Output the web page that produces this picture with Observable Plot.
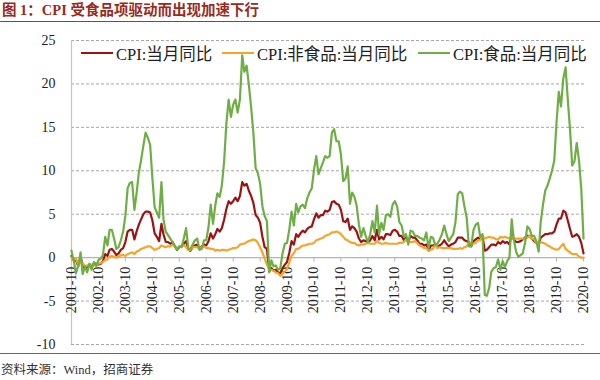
<!DOCTYPE html>
<html>
<head>
<meta charset="utf-8">
<script src="https://cdn.jsdelivr.net/npm/d3@7"></script>
<script src="https://cdn.jsdelivr.net/npm/@observablehq/plot@0.6"></script>
<style>
  body { margin: 0; background: #fff; }
  #wrap { position: relative; width: 600px; height: 380px; overflow: hidden;
          font-family: "Liberation Serif", "Noto Sans CJK SC", serif; color: #222; }
  #title { position: absolute; left: 0; top: 0; width: 600px; height: 21px;
           border-bottom: 1.5px solid #9b3d2e; }
  #title span { position: absolute; left: 2px; top: 1px; font-size: 14.5px; font-weight: bold;
                color: #9a2a20; white-space: nowrap; line-height: 18px; }
  #chart { position: absolute; left: 0; top: 24px; }
  #legend { position: absolute; left: 0; top: 43px; width: 600px; height: 20px; }
  .item { position: absolute; top: 0; height: 20px; display: flex; align-items: center;
          font-size: 16.5px; white-space: nowrap; color: #222; }
  .swatch { display: inline-block; width: 32px; height: 2.5px; margin-right: 3px; }
  #footer { position: absolute; left: 0; top: 353px; width: 600px; height: 27px;
            border-top: 1px solid #a0523f; }
  #footer span { position: absolute; left: 1px; top: 9px; font-size: 12.5px; color: #333;
                 white-space: nowrap; line-height: 14px; }
</style>
</head>
<body>
<div id="wrap">
  <div id="title"><span>图 1：CPI 受食品项驱动而出现加速下行</span></div>
  <div id="chart"></div>
  <div id="legend"></div>
  <div id="footer"><span>资料来源：Wind，招商证券</span></div>
</div>
<script>
// ---- data (monthly, from 2001-10 to 2020-10) ----
const startYear = 2001;
const startMonthIndex = 9; // October
const seriesNames = ["CPI:当月同比", "CPI:非食品:当月同比", "CPI:食品:当月同比"];

const cpi = [
  0.2, -0.3, -0.3,
  -1.0, 0.0, -0.8, -1.3, -1.1, -0.8, -0.9, -0.7, -0.7, -0.8, -0.7, -0.4,
  0.4, 0.2, 0.9, 1.0, 0.7, 0.3, 0.5, 0.9, 1.1, 1.8, 3.0, 3.2,
  3.2, 2.1, 3.0, 3.8, 4.4, 5.0, 5.3, 5.3, 5.2, 4.3, 2.8, 2.4,
  1.9, 3.9, 2.7, 1.8, 1.8, 1.6, 1.8, 1.3, 0.9, 1.2, 1.3, 1.6,
  1.9, 0.9, 0.8, 1.2, 1.4, 1.5, 1.0, 1.3, 1.5, 1.4, 1.9, 2.8,
  2.2, 2.7, 3.3, 3.0, 3.4, 4.4, 5.6, 6.5, 6.2, 6.5, 6.9, 6.5,
  7.1, 8.7, 8.3, 8.5, 7.7, 7.1, 6.3, 4.9, 4.6, 4.0, 2.4, 1.2,
  1.0, -1.6, -1.2, -1.5, -1.4, -1.7, -1.8, -1.2, -0.8, -0.5, 0.6, 1.9,
  1.5, 2.7, 2.4, 2.8, 3.1, 2.9, 3.3, 3.5, 3.6, 4.4, 5.1, 4.6,
  4.9, 4.9, 5.4, 5.3, 5.5, 6.4, 6.5, 6.2, 6.1, 5.5, 4.2, 4.1,
  4.5, 3.2, 3.6, 3.4, 3.0, 2.2, 1.8, 2.0, 1.9, 1.7, 2.0, 2.5,
  2.0, 3.2, 2.1, 2.4, 2.1, 2.7, 2.7, 2.6, 3.1, 3.2, 3.0, 2.5,
  2.5, 2.0, 2.4, 1.8, 2.5, 2.3, 2.3, 2.0, 1.6, 1.6, 1.4, 1.5,
  0.8, 1.4, 1.4, 1.5, 1.2, 1.4, 1.6, 2.0, 1.6, 1.3, 1.5, 1.6,
  1.8, 2.3, 2.3, 2.3, 2.0, 1.9, 1.8, 1.3, 1.9, 2.1, 2.3, 2.1,
  2.5, 0.8, 0.9, 1.2, 1.5, 1.5, 1.4, 1.8, 1.6, 1.9, 1.7, 1.8,
  1.5, 2.9, 2.1, 1.8, 1.8, 1.9, 2.1, 2.3, 2.5, 2.5, 2.2, 1.9,
  1.7, 1.5, 2.3, 2.5, 2.7, 2.7, 2.8, 2.8, 3.0, 3.8, 4.5, 4.5,
  5.4, 5.2, 4.3, 3.3, 2.4, 2.5, 2.7, 2.4, 1.7, 0.5
];

const nonFood = [
  0.0, -0.2, -0.1,
  -0.9, -0.5, -0.6, -1.0, -0.9, -0.9, -0.8, -0.9, -0.8, -0.7, -0.6, -0.5,
  -0.3, -0.2, 0.1, 0.2, 0.1, 0.0, 0.1, 0.3, 0.3, 0.2, 0.4, 0.5,
  0.6, 0.4, 0.7, 0.8, 1.0, 1.1, 1.2, 1.3, 1.3, 1.1, 0.9, 1.0,
  1.1, 1.4, 1.3, 1.2, 1.3, 1.3, 1.5, 1.3, 1.0, 1.3, 1.3, 1.4,
  1.2, 0.9, 0.9, 1.2, 1.2, 1.2, 1.0, 1.2, 1.3, 1.1, 1.1, 1.0,
  1.0, 0.8, 0.9, 0.8, 0.9, 0.9, 0.8, 0.9, 1.0, 1.1, 1.1, 1.2,
  1.5, 1.6, 1.6, 1.8, 1.9, 2.0, 2.1, 2.0, 1.7, 1.2, 0.6, -0.1,
  -0.8, -1.3, -1.4, -1.5, -1.7, -1.8, -2.1, -1.9, -1.6, -1.3, -0.5, 0.2,
  0.5, 1.0, 1.0, 1.2, 1.4, 1.4, 1.5, 1.6, 1.6, 1.7, 2.0, 2.1,
  2.2, 2.3, 2.5, 2.6, 2.7, 2.9, 2.9, 3.0, 2.9, 2.7, 2.4, 2.1,
  2.0, 1.8, 1.7, 1.7, 1.5, 1.4, 1.5, 1.5, 1.6, 1.7, 1.6, 1.6,
  1.6, 1.9, 1.7, 1.6, 1.6, 1.7, 1.6, 1.6, 1.6, 1.6, 1.6, 1.7,
  1.7, 1.8, 2.1, 1.8, 1.8, 1.8, 1.9, 1.7, 1.4, 1.3, 1.1, 1.1,
  0.8, 0.9, 1.0, 1.5, 1.1, 1.2, 1.1, 1.1, 1.1, 1.1, 1.1, 1.0,
  1.0, 1.0, 1.1, 1.0, 1.2, 1.3, 1.7, 1.6, 1.6, 1.7, 2.0, 2.0,
  2.5, 2.2, 2.3, 2.4, 2.3, 2.3, 2.1, 2.1, 2.4, 2.3, 2.4, 2.3,
  2.2, 2.5, 2.1, 2.2, 2.2, 2.2, 2.2, 2.2, 2.3, 2.5, 2.2, 2.1,
  1.7, 1.7, 1.8, 1.7, 1.6, 1.4, 1.3, 1.1, 1.0, 0.9, 1.0, 1.3,
  1.6, 1.0, 0.8, 0.6, 0.4, 0.4, 0.4, 0.1, 0.0, 0.0
];

const food = [
  0.8, -0.4, -1.8,
  -0.9, 0.6, -1.9, -1.0, -1.7, -0.7, -1.4, -0.5, -1.0, -0.3, -0.1, 0.3,
  2.4, 1.4, 3.2, 3.2, 2.2, 1.0, 1.2, 2.0, 3.0, 4.8, 8.0, 8.6,
  8.7, 5.5, 7.4, 9.8, 11.2, 12.9, 14.4, 13.8, 13.0, 9.2, 5.8, 5.2,
  4.6, 8.7, 4.4, 3.0, 2.6, 2.2, 1.8, 1.4, 0.9, 1.3, 1.2, 2.2,
  3.4, 1.0, 1.0, 1.5, 2.0, 2.2, 0.9, 1.0, 2.0, 2.0, 3.5, 6.1,
  3.9, 6.0, 7.4, 7.0, 8.3, 11.1, 15.4, 18.2, 16.2, 17.6, 18.2, 16.7,
  18.2, 23.3, 21.4, 22.1, 19.9, 17.3, 14.4, 10.3, 9.7, 8.5, 5.9, 4.8,
  4.2, -1.7, -0.3, -1.0, -0.9, -1.4, -1.2, 0.5, 1.6, 1.7, 3.3, 5.3,
  3.7, 6.2, 5.2, 5.9, 6.1, 5.7, 6.8, 7.5, 8.0, 10.1, 11.7, 9.6,
  10.3, 11.0, 11.7, 11.5, 11.7, 14.4, 14.8, 13.4, 13.4, 11.9, 8.8, 9.1,
  10.5, 6.2, 7.5, 7.0, 6.0, 3.8, 2.4, 3.4, 2.5, 1.8, 2.7, 4.2,
  2.9, 6.0, 2.7, 4.0, 3.2, 4.9, 5.0, 4.7, 6.1, 6.5, 5.9, 4.1,
  3.7, 2.4, 2.7, 1.5, 3.1, 3.0, 2.5, 2.5, 2.3, 2.2, 2.0, 2.9,
  1.1, 2.4, 2.3, 1.5, 1.6, 2.1, 2.7, 3.7, 2.7, 1.9, 2.3, 2.7,
  4.1, 7.3, 7.6, 7.4, 5.9, 4.6, 1.3, 1.3, 3.2, 3.8, 4.0, 2.4,
  2.7, -4.3, -4.4, -3.5, -1.6, -1.2, -1.1, -0.2, -1.4, -0.4, -1.1, -0.4,
  0.0, 4.4, 2.1, 0.7, 0.1, 0.3, 0.5, 1.7, 3.6, 3.3, 2.5, 2.5,
  1.9, 0.7, 4.1, 6.1, 7.7, 8.3, 9.1, 10.0, 11.2, 15.5, 19.1, 17.4,
  20.6, 21.9, 18.3, 14.8, 10.6, 11.1, 13.2, 11.2, 7.9, 2.2
];

const xTickLabels = [
  "2001-10", "2002-10", "2003-10", "2004-10", "2005-10", "2006-10", "2007-10",
  "2008-10", "2009-10", "2010-10", "2011-10", "2012-10", "2013-10", "2014-10",
  "2015-10", "2016-10", "2017-10", "2018-10", "2019-10", "2020-10"
];
const yTicks = [-10, -5, 0, 5, 10, 15, 20, 25];

// ---- styles ----
const colors = ["#9a1414", "#f4a52a", "#6fae45"];
const fontStack = '"Liberation Serif", "Noto Sans CJK SC", serif';

// ---- build table ----
const months = cpi.map((_, i) => new Date(Date.UTC(startYear, startMonthIndex + i, 1)));
const seriesValues = [cpi, nonFood, food];
const tickDates = xTickLabels.map(s => {
  const [y, m] = s.split("-").map(Number);
  return new Date(Date.UTC(y, m - 1, 1));
});

const lines = seriesValues.map((vals, k) =>
  Plot.line(vals.map((v, i) => ({date: months[i], value: v})), {
    x: "date", y: "value", stroke: colors[k], strokeWidth: 2.2, strokeLinejoin: "round"
  })
);

const chart = Plot.plot({
  width: 600,
  height: 330,
  marginLeft: 71,
  marginRight: 15,
  marginTop: 16,
  marginBottom: 10,
  style: {fontFamily: fontStack, fontSize: "14px", color: "#222", background: "transparent"},
  x: {type: "utc", domain: [months[0], months[months.length - 1]], range: [71, 583], axis: null},
  y: {domain: [-10, 25], label: null},
  marks: [
    Plot.ruleY(yTicks.filter(d => d !== 0), {stroke: "#a6a6a6", strokeDasharray: "3,2", strokeWidth: 1}),
    Plot.ruleX([months[0]], {y1: -10, y2: 25, stroke: "#c4c4c4", strokeWidth: 1.2}),
    Plot.ruleY([0], {stroke: "#b5b5b5", strokeWidth: 1.2}),
    Plot.ruleX(tickDates, {y1: 0, y2: -0.5, stroke: "#b5b5b5"}),
    Plot.axisY({ticks: yTicks, tickSize: 0, tickPadding: 16, tickFormat: d => String(d), fontSize: 14, label: null}),
    Plot.text(tickDates, {
      x: d => d, y: 0, text: (d, i) => xTickLabels[i],
      rotate: -90, textAnchor: "end", dy: 9, fontSize: 14, fill: "#222"
    }),
    ...lines
  ]
});
document.getElementById("chart").appendChild(chart);

// ---- legend ----
const legendLefts = [81, 222, 418];
const legend = document.getElementById("legend");
seriesNames.forEach((name, k) => {
  const item = document.createElement("div");
  item.className = "item";
  item.style.left = legendLefts[k] + "px";
  const sw = document.createElement("span");
  sw.className = "swatch";
  sw.style.background = colors[k];
  const tx = document.createElement("span");
  tx.textContent = name;
  item.appendChild(sw);
  item.appendChild(tx);
  legend.appendChild(item);
});
</script>
</body>
</html>
